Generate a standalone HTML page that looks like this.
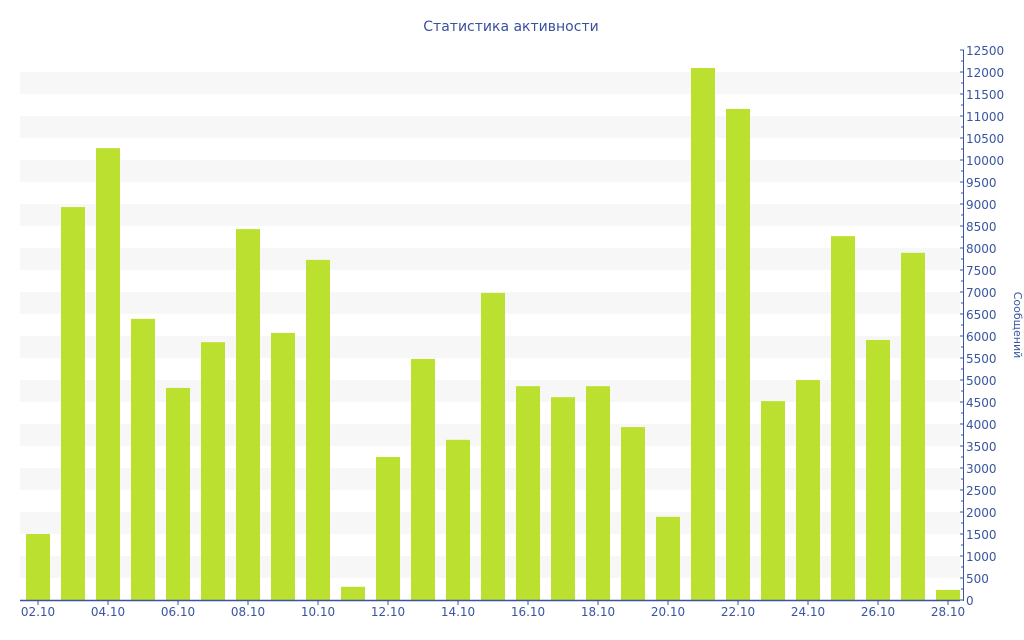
<!DOCTYPE html>
<html><head><meta charset="utf-8"><style>body{margin:0;background:#fff}svg{display:block}</style></head>
<body>
<svg width="1024" height="640" viewBox="0 0 1024 640" xmlns="http://www.w3.org/2000/svg" font-family="DejaVu Sans, Liberation Sans, sans-serif">
<text x="511" y="31" text-anchor="middle" font-size="14" fill="#3a50a0">Статистика активности</text>
<g id="stripes" fill="#f7f7f7"></g>
<g id="bars" fill="#bce02f"></g>
<line x1="20" y1="600.5" x2="960" y2="600.5" stroke="#3a55a0" stroke-width="1.5"/>
<line x1="963.5" y1="50" x2="963.5" y2="601" stroke="#3a55a0" stroke-width="1"/>
<g id="yt" font-size="12" fill="#3a55a0"></g>
<g id="xt" font-size="12" fill="#3a55a0"></g>
<text transform="translate(1014,325) rotate(90)" text-anchor="middle" font-size="11" fill="#3a55a0">Сообщений</text>
<script>
var ns="http://www.w3.org/2000/svg";
function el(p,t,a,txt){var e=document.createElementNS(ns,t);for(var k in a)e.setAttribute(k,a[k]);if(txt)e.textContent=txt;document.getElementById(p).appendChild(e);}
for(var v=500;v<12500;v+=1000){var y=600-(v+500)*0.044;el("stripes","rect",{x:20,y:y,width:940,height:22});}
var vals=[1500,8930,10270,6390,4820,5860,8430,6070,7730,300,3250,5480,3640,6980,4860,4610,4860,3930,1890,12090,11160,4520,5000,8270,5910,7890,230];
vals.forEach(function(v,i){var h=v*0.044;el("bars","rect",{x:26+35*i,y:600-h,width:24,height:h});
if(i%2==0){var d=(2+i);var s=(d<10?"0":"")+d+".10";el("xt","text",{x:38+35*i,y:616,"text-anchor":"middle"},s);el("xt","line",{x1:38+35*i,y1:601,x2:38+35*i,y2:605,stroke:"#3a55a0"});}});
for(var v=0;v<=12500;v+=500){var y=600-v*0.044;el("yt","text",{x:966,y:y+5},String(v));el("yt","line",{x1:960,y1:y,x2:964,y2:y,stroke:"#3a55a0"});
if(v<12500)el("yt","line",{x1:961,y1:y-11,x2:964,y2:y-11,stroke:"#3a55a0"});}
</script>
</svg>
</body></html>
